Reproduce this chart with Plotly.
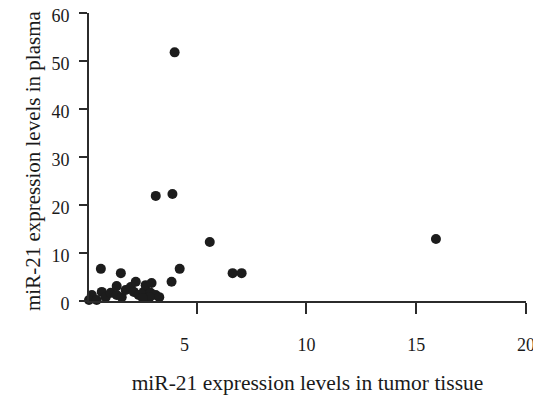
import plotly.graph_objects as go

tumor = [4.0, 3.14, 3.9, 5.6, 4.23, 3.86, 6.64, 7.05, 15.9, 0.64, 1.55,
         0.23, 0.1, 0.45, 0.68, 0.86, 1.09, 1.36, 1.36, 1.59, 1.77, 2.0,
         2.23, 2.14, 2.36, 2.59, 2.68, 2.95, 2.9, 3.14, 2.86, 3.3, 2.55]
plasma = [51.8, 21.9, 22.3, 12.3, 6.7, 4.0, 5.8, 5.8, 12.9, 6.7, 5.8,
          1.25, 0.2, 0.2, 1.9, 0.8, 1.7, 3.1, 1.25, 0.8, 2.3, 2.9,
          4.0, 1.9, 1.25, 1.9, 3.3, 3.75, 1.7, 1.25, 0.8, 0.8, 0.6]

x_ticks = [5, 10, 15, 20]
x_label_pos = [4.45, 10, 15, 20]
x_label_text = ["5", "10", "15", "20"]
y_ticks = [0, 10, 20, 30, 40, 50, 60]

AX = "#2b2b2b"
TXT = "#1a1a1a"
FONT = "Liberation Serif"

fig = go.Figure()
fig.add_trace(go.Scatter(
    x=tumor, y=plasma, mode="markers",
    marker=dict(size=10, color="#1c1c1c", line=dict(width=0)),
    cliponaxis=False, showlegend=False, hoverinfo="skip"))
# invisible carrier so the label axis is drawn
fig.add_trace(go.Scatter(x=[x_label_pos[-1]], y=[y_ticks[0]], xaxis="x2", mode="markers",
                         marker=dict(opacity=0), showlegend=False, hoverinfo="skip"))

fig.update_layout(
    width=541, height=396,
    margin=dict(l=81, r=23, t=5, b=103),
    paper_bgcolor="white", plot_bgcolor="white",
    font=dict(family=FONT, color=TXT, size=18),
    xaxis=dict(range=[0.1, 20], tickvals=x_ticks, showticklabels=False,
               ticks="outside", ticklen=11, tickwidth=2, tickcolor=AX,
               showline=True, linewidth=2, linecolor=AX, showgrid=False,
               zeroline=False, automargin=False,
               title=dict(text="miR-21 expression levels in tumor tissue",
                          font=dict(size=21.5, family=FONT, color=TXT), standoff=62)),
    xaxis2=dict(range=[0.1, 20], overlaying="x", side="bottom", anchor="y",
                tickvals=x_label_pos, ticktext=x_label_text, ticks="",
                showline=False, showgrid=False, zeroline=False, automargin=False,
                ticklabeloverflow="allow",
                ticklabelstandoff=31, tickfont=dict(size=18, family=FONT, color=TXT)),
    yaxis=dict(range=[0, 60], tickvals=y_ticks, ticks="outside", ticklen=8,
               tickwidth=2, tickcolor=AX, showline=True, linewidth=2, linecolor=AX,
               showgrid=False, zeroline=False, ticklabelstandoff=6, automargin=False,
               ticklabeloverflow="allow", ticklabelshift=3,
               tickfont=dict(size=18, family=FONT, color=TXT)),
    annotations=[dict(text="miR-21 expression levels in plasma", textangle=-90,
                      xref="paper", yref="paper", x=0, y=0.5, xanchor="center",
                      yanchor="middle", xshift=-56, yshift=-4, showarrow=False,
                      font=dict(size=21, family=FONT, color=TXT))],
)

fig.write_html("out.html")
